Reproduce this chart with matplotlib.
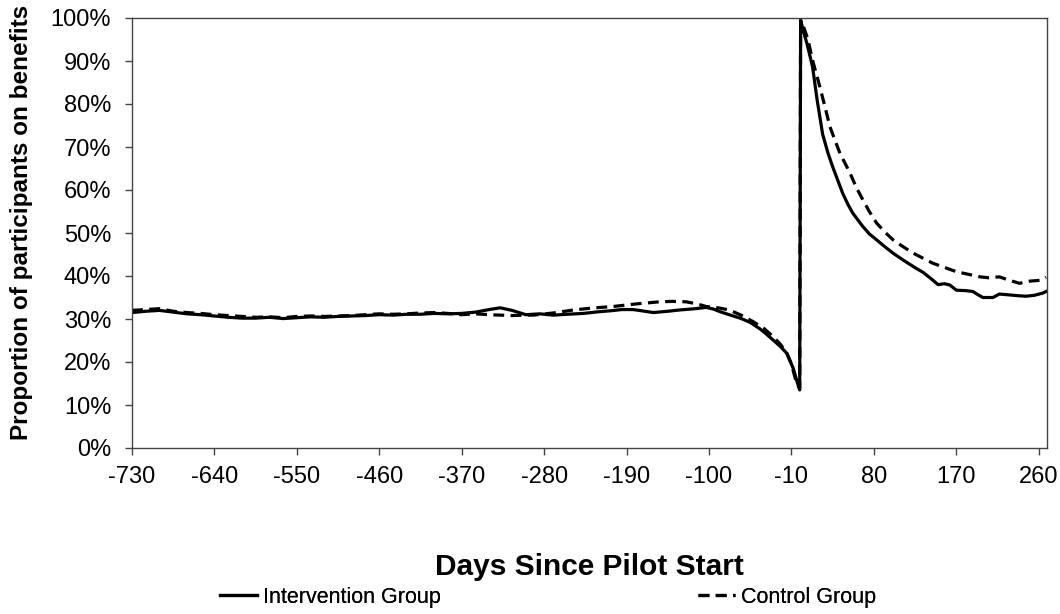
"""
Share of participants on benefits, by days since pilot start:
intervention group vs control group.
"""

import matplotlib.pyplot as plt
from matplotlib.ticker import FuncFormatter

plt.rcParams['font.family'] = ['Liberation Sans', 'DejaVu Sans']
plt.rcParams['axes.unicode_minus'] = False

# --------------------------------------------------------------------------- #
# Data (% on benefits)
# --------------------------------------------------------------------------- #

INT_DAYS = [-730, -715, -700, -685, -670, -655, -640, -625, -610, -595, -580,
            -565, -550, -535, -520, -505, -490, -475, -460, -445, -430, -415,
            -400, -385, -370, -355, -340, -328, -315, -300, -285, -270, -255,
            -237, -220, -208, -195, -183, -170, -161, -145, -132, -115, -103,
            -95, -88, -78, -66, -55, -45, -38, -30, -22, -15, -8, -4, -1,
            0, 3, 7, 13, 18, 24, 30, 35, 41, 46, 52, 57, 63, 68, 75, 83, 92,
            101, 112, 123, 134, 144, 150, 157, 163, 170, 180, 188, 194, 199,
            210, 217, 228, 238, 246, 255, 264, 268]
INT_VALS = [31.5, 31.8, 32.0, 31.6, 31.2, 31.0, 30.7, 30.4, 30.2, 30.2, 30.4,
            30.1, 30.3, 30.5, 30.4, 30.6, 30.7, 30.8, 31.0, 30.9, 31.1, 31.1,
            31.3, 31.2, 31.3, 31.6, 32.2, 32.6, 32.0, 31.0, 31.2, 30.9, 31.1,
            31.3, 31.7, 31.9, 32.2, 32.2, 31.8, 31.5, 31.8, 32.1, 32.4, 32.7,
            32.3, 31.7, 31.0, 30.2, 29.2, 27.8, 26.6, 25.1, 23.6, 22.0, 18.5,
            15.5, 13.5,
            99.5, 97.0, 94.0, 88.7, 81.0, 73.0, 68.5, 65.4, 62.0, 59.2, 56.5,
            54.6, 52.9, 51.5, 49.8, 48.4, 46.8, 45.3, 43.7, 42.2, 40.8, 39.1,
            38.0, 38.2, 37.9, 36.7, 36.6, 36.4, 35.6, 35.0, 35.0, 35.8, 35.6,
            35.4, 35.3, 35.5, 36.0, 36.4]

CTL_DAYS = [-730, -715, -700, -685, -670, -655, -640, -625, -610, -595, -580,
            -565, -550, -535, -520, -505, -490, -475, -460, -445, -430, -415,
            -400, -385, -370, -355, -340, -328, -315, -300, -292, -270, -248,
            -225, -205, -180, -154, -140, -125, -113, -103, -90, -78, -65,
            -52, -40, -30, -22, -15, -10, -5, -1,
            0, 4, 8, 13, 21, 27, 32, 38, 43, 49, 54, 61, 68, 75, 83, 92, 101,
            112, 123, 134, 144, 157, 170, 183, 196, 205, 217, 228, 239, 250,
            261, 268]
CTL_VALS = [32.0, 32.2, 32.4, 31.8, 31.5, 31.3, 31.0, 30.8, 30.6, 30.4, 30.5,
            30.3, 30.6, 30.7, 30.6, 30.7, 30.8, 31.0, 31.2, 31.1, 31.2, 31.4,
            31.5, 31.3, 31.0, 31.2, 31.0, 30.9, 30.8, 30.9, 30.9, 31.4, 32.1,
            32.6, 32.9, 33.5, 34.0, 34.1, 34.0, 33.5, 32.9, 32.6, 32.1, 30.9,
            29.4, 27.8, 25.9, 24.1, 22.0, 19.5, 15.5, 13.8,
            99.5, 97.5, 95.0, 90.2, 84.0, 79.0, 74.7, 71.3, 68.5, 66.0, 63.9,
            60.5, 57.7, 55.0, 52.3, 50.2, 48.4, 46.8, 45.3, 44.1, 43.0, 42.0,
            41.0, 40.4, 39.8, 39.6, 39.8, 39.0, 38.3, 38.8, 39.0, 39.7]

X_TICKS = [-730, -640, -550, -460, -370, -280, -190, -100, -10, 80, 170, 260]
Y_TICKS = [0, 10, 20, 30, 40, 50, 60, 70, 80, 90, 100]


def main():
    fig = plt.figure(figsize=(10.6, 6.14), dpi=100, facecolor='white')
    ax = fig.add_axes([132 / 1060, 166 / 614, 915 / 1060, 430 / 614])

    lw = 2.3
    h_int, = ax.plot(INT_DAYS, INT_VALS, color='black', lw=lw,
                     solid_joinstyle='round', label='Intervention Group')
    h_ctl, = ax.plot(CTL_DAYS, CTL_VALS, color='black', lw=lw,
                     linestyle=(0, (3.4, 2.0)), label='Control Group')

    ax.set_xlim(-730, 269)
    ax.set_ylim(0, 100)
    ax.set_xticks(X_TICKS)
    ax.set_yticks(Y_TICKS)
    ax.yaxis.set_major_formatter(FuncFormatter(lambda v, _: f'{v:.0f}%'))
    ax.tick_params(axis='both', direction='out', length=5, width=1,
                   color='#444444', labelsize=17)
    ax.tick_params(axis='y', pad=10)
    ax.tick_params(axis='x', pad=8)
    for sp in ax.spines.values():
        sp.set_color('#444444')
        sp.set_linewidth(1)

    fig.text(0.5 * (132 + 1047) / 1060, 1 - 567 / 614, 'Days Since Pilot Start',
             ha='center', va='center', fontsize=21.5, fontweight='bold')
    fig.text(22 / 1060, 1 - 222 / 614, 'Proportion of participants on benefits',
             ha='center', va='center', rotation=90, fontsize=17.5,
             fontweight='bold')

    for handle, x0 in [(h_int, 220), (h_ctl, 698)]:
        leg = fig.legend([handle], [handle.get_label()], loc='center left',
                         bbox_to_anchor=(x0 / 1060, 1 - 597 / 614),
                         frameon=False, fontsize=15.5, borderpad=0,
                         borderaxespad=0, handlelength=1.7, handletextpad=0.3)
        fig.add_artist(leg)

    fig.savefig('out.png', dpi=100, facecolor='white')


if __name__ == '__main__':
    main()
